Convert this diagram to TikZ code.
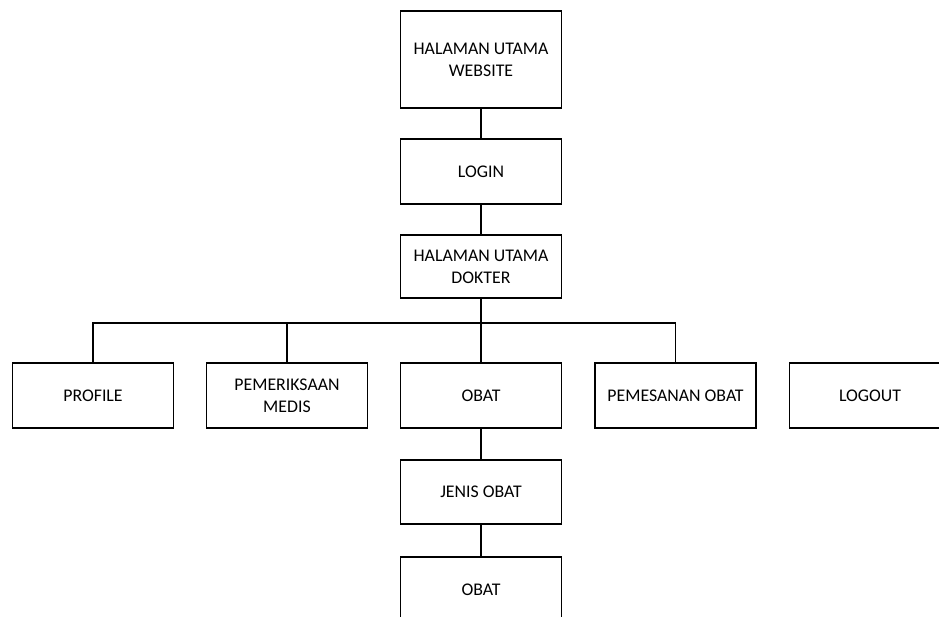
\documentclass[tikz,border=0pt]{standalone}
\usepackage{fontspec}
\setmainfont{Carlito}
\begin{document}
\begin{tikzpicture}[x=1pt,y=-1pt,
  box/.style={draw=black, line width=1.3pt, minimum width=161pt, align=center, inner sep=0pt,
    font=\fontsize{17.8}{22}\selectfont},
  link/.style={draw=black, line width=1.3pt}]
\useasboundingbox (0,0) rectangle (939,617);
\clip (0,0) rectangle (939,617);
\node[box, minimum height=97pt] (web) at (481,59.5) {HALAMAN UTAMA\\WEBSITE};
\node[box, minimum height=65pt] (login) at (481,171.5) {LOGIN};
\node[box, minimum height=63pt] (dok) at (481,266.5) {HALAMAN UTAMA\\DOKTER};
\node[box, minimum height=65pt] (prof) at (93,395.5) {PROFILE};
\node[box, minimum height=65pt] (medis) at (287,395.5) {PEMERIKSAAN\\MEDIS};
\node[box, minimum height=65pt] (obat) at (481,395.5) {OBAT};
\node[box, minimum height=65pt] (pesan) at (675.5,395.5) {PEMESANAN OBAT};
\node[box, minimum height=65pt] (logout) at (870,395.5) {LOGOUT};
\node[box, minimum height=64pt] (jenis) at (481,492) {JENIS OBAT};
\node[box, minimum height=65pt] (obat2) at (481,589.5) {OBAT};
\coordinate (bus) at (481,323);
\draw[link] (web) -- (login);
\draw[link] (login) -- (dok);
\draw[link] (dok.south) -- (bus);
\draw[link] (prof.north) |- (bus);
\draw[link] (medis.north) |- (bus);
\draw[link] (pesan.north) |- (bus);
\draw[link] (bus) -- (obat.north);
\draw[link] (obat) -- (jenis);
\draw[link] (jenis) -- (obat2);
\end{tikzpicture}
\end{document}
